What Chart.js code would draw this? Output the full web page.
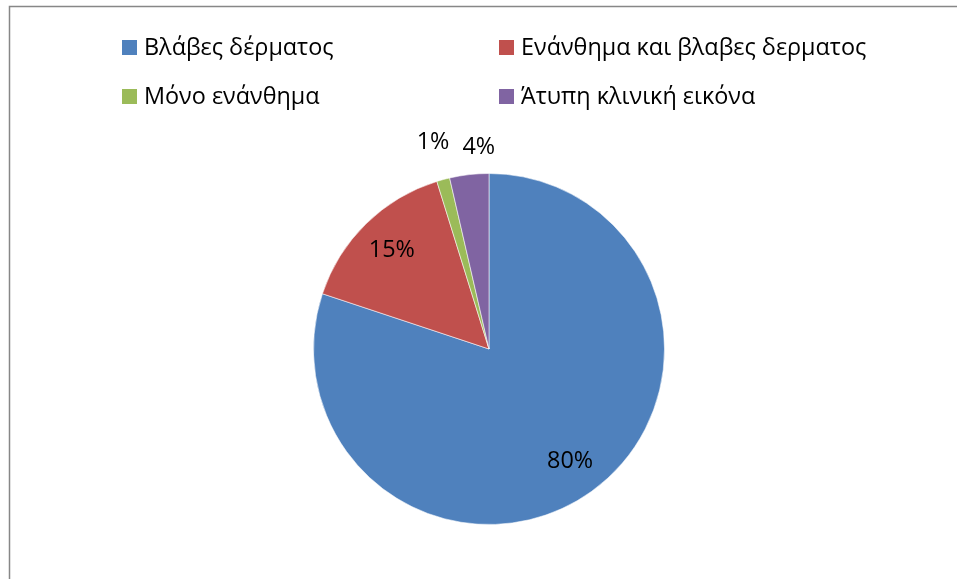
<!DOCTYPE html>
<html><head><meta charset="utf-8">
<script src="https://cdn.jsdelivr.net/npm/chart.js@4.4.1/dist/chart.umd.min.js"></script>
<style>html,body{margin:0;padding:0;background:#fff;overflow:hidden}#wrap{position:relative;width:957px;height:579px}</style>
</head><body><div id="wrap"><canvas id="c" width="957" height="579"></canvas></div>
<script>
const categories = ["Βλάβες δέρματος", "Ενάνθημα και βλαβες δερματος", "Μόνο ενάνθημα", "Άτυπη κλινική εικόνα"];
const values = [80.1, 15.1, 1.2, 3.6];
const colors = ["#4F81BD", "#C0504D", "#9BBB59", "#8064A2"];

const FONT = '"Open Sans", "Noto Sans", sans-serif';

const framePlugin = {
  id: 'frame',
  beforeDraw(chart) {
    const ctx = chart.ctx;
    ctx.save();
    ctx.fillStyle = '#ffffff';
    ctx.fillRect(0, 0, chart.width, chart.height);
    ctx.strokeStyle = '#878787';
    ctx.lineWidth = 1.5;
    ctx.beginPath();
    ctx.moveTo(9.5, chart.height + 5);
    ctx.lineTo(9.5, 6.5);
    ctx.lineTo(chart.width + 5, 6.5);
    ctx.stroke();
    ctx.restore();
  }
};

const gridLegend = {
  id: 'gridLegend',
  afterDraw(chart) {
    const ctx = chart.ctx;
    const labels = chart.data.labels;
    const bg = chart.data.datasets[0].backgroundColor;
    const colX = [122, 499];
    const rowY = [47, 96];
    ctx.save();
    ctx.font = '23.4px ' + FONT;
    ctx.textBaseline = 'middle';
    ctx.textAlign = 'left';
    labels.forEach((lab, i) => {
      const x = colX[i % 2], y = rowY[Math.floor(i / 2)];
      ctx.fillStyle = bg[i];
      ctx.fillRect(x, y - 7, 15, 15);
      ctx.fillStyle = '#000000';
      ctx.fillText(lab, x + 22, y + 1);
    });
    ctx.restore();
  }
};

const pctLabels = {
  id: 'pctLabels',
  afterDatasetsDraw(chart) {
    const ctx = chart.ctx;
    const meta = chart.getDatasetMeta(0);
    const data = chart.data.datasets[0].data;
    const total = data.reduce((a, b) => a + b, 0);
    ctx.save();
    ctx.font = '23.4px ' + FONT;
    ctx.textBaseline = 'middle';
    ctx.textAlign = 'center';
    ctx.fillStyle = '#000000';
    const items = [];
    meta.data.forEach((arc, i) => {
      const p = arc.getProps(['x', 'y', 'startAngle', 'endAngle', 'outerRadius'], true);
      const mid = (p.startAngle + p.endAngle) / 2;
      const pct = Math.round(data[i] / total * 100);
      const txt = pct + '%';
      const w = ctx.measureText(txt).width;
      const outside = pct < 10;
      const dist = outside ? p.outerRadius + 27 : p.outerRadius * 0.79;
      items.push({ txt, w, outside, mid, dist, cx: p.x, cy: p.y });
    });
    let prev = null;
    items.forEach(it => {
      it.tx = it.cx + Math.cos(it.mid) * it.dist;
      it.ty = it.cy + Math.sin(it.mid) * it.dist;
      if (it.outside) {
        if (prev && it.tx - it.w / 2 < prev.tx + prev.w / 2 + 13) {
          prev.dist += 12;
          prev.tx = prev.cx + Math.cos(prev.mid) * prev.dist;
          prev.ty = prev.cy + Math.sin(prev.mid) * prev.dist;
          it.tx = Math.max(it.tx, prev.tx + prev.w / 2 + 13 + it.w / 2);
        }
        prev = it;
      }
    });
    items.forEach(it => ctx.fillText(it.txt, it.tx, it.ty));
    ctx.restore();
  }
};

new Chart(document.getElementById('c'), {
  type: 'pie',
  data: {
    labels: categories,
    datasets: [{
      data: values,
      backgroundColor: colors,
      borderColor: 'rgba(255,255,255,0.55)',
      borderWidth: 1
    }]
  },
  options: {
    responsive: false,
    animation: false,
    devicePixelRatio: 1,
    layout: { padding: { top: 173, bottom: 54, left: 21, right: 0 } },
    plugins: { legend: { display: false }, tooltip: { enabled: false } }
  },
  plugins: [framePlugin, gridLegend, pctLabels]
});
</script>
</body></html>
